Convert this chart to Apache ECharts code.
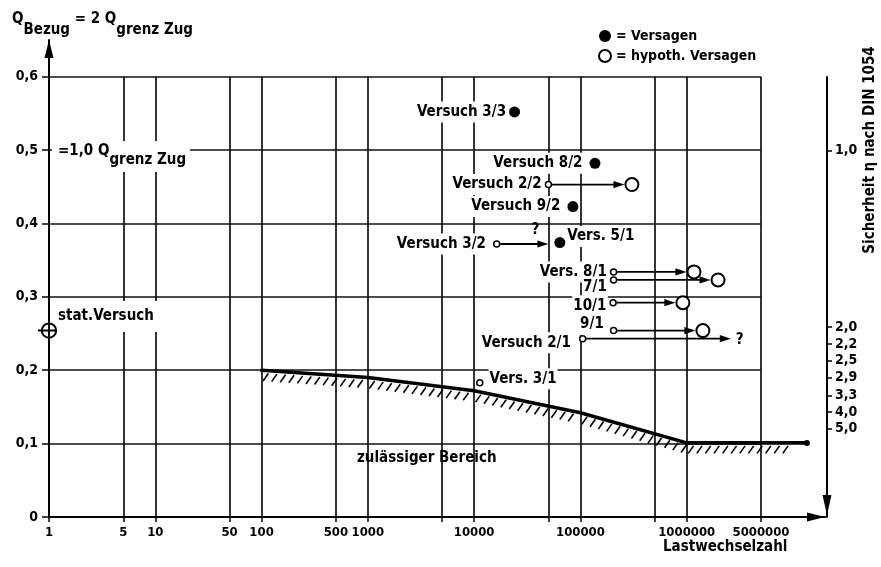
<!DOCTYPE html>
<html><head><meta charset="utf-8">
<script src="https://cdn.jsdelivr.net/npm/echarts@6/dist/echarts.min.js"></script>
<style>html,body{margin:0;padding:0;background:#fff}#c{width:881px;height:567px}</style>
</head><body><div id="c"></div>
<script>
const FONT = "'DejaVu Sans Condensed', 'Liberation Sans Narrow', 'DejaVu Sans', sans-serif";

// ---- axes ----
const xGridValues = [5, 10, 50, 100, 500, 1000, 5000, 10000, 50000, 100000, 500000, 1000000, 5000000];
const xTickValues = [1, 5, 10, 50, 100, 500, 1000, 5000, 10000, 50000, 100000, 500000, 1000000, 5000000];
const xLabelValues = [1, 5, 10, 50, 100, 500, 1000, 10000, 100000, 1000000, 5000000];
const yTickValues = [0, 0.1, 0.2, 0.3, 0.4, 0.5, 0.6];
const yGridValues = [0.1, 0.2, 0.3, 0.4, 0.5, 0.6];
const etaLabels = ['1,0', '2,0', '2,2', '2,5', '2,9', '3,3', '4,0', '5,0'];
const etaTickQ = [0.5, 0.259, 0.236, 0.213, 0.19, 0.166, 0.143, 0.121];

// ---- limit curve (zulässiger Bereich) ----
const limitN = [100, 1000, 10000, 100000, 1000000, 13500000];
const limitQ = [0.2, 0.19, 0.172, 0.142, 0.101, 0.101];

// ---- failures (Versagen) ----
const failNames = ['Versuch 3/3', 'Versuch 8/2', 'Versuch 9/2', 'Vers. 5/1'];
const failN = [24000, 137000, 85000, 64000];
const failQ = [0.552, 0.482, 0.423, 0.374];

// ---- hypothetical failures ----
const hypNames = ['Versuch 2/2', 'Versuch 3/2', 'Vers. 8/1', '7/1', '10/1', '9/1', 'Versuch 2/1', 'Vers. 3/1'];
const hypStartN = [50000, 16300, 205000, 205000, 203000, 205000, 105000, 11300];
const hypEndN = [305000, 50000, 1170000, 1970000, 920000, 1420000, 2600000, null];
const hypQ = [0.453, 0.372, 0.334, 0.323, 0.292, 0.254, 0.243, 0.183];
const hypEndIsFailure = [true, false, true, true, true, true, false, false];
const hypNotes = ['', '?', '', '', '', '', '?', ''];

// ---- static test ----
const staticN = [1];
const staticQ = [0.254];

// ---------- styling ----------
const INK = '#000';
const labelFont = {fontFamily: FONT, fontWeight: 'bold', fontSize: 15, color: '#000'};
const tickFont = {fontFamily: FONT, fontWeight: 'bold', fontSize: 14, color: '#000'};
const labelPlace = {
  'Versuch 3/3': {position: 'left', distance: 2},
  'Versuch 8/2': {position: 'left', distance: 6},
  'Versuch 9/2': {position: 'left', distance: 6},
  'Vers. 5/1': {position: 'right', distance: 1, offset: [0, -6]},
  'Versuch 2/2': {position: 'left', distance: 2},
  'Versuch 3/2': {position: 'left', distance: 6},
  'Vers. 8/1': {position: 'left', distance: 2},
  '7/1': {position: 'left', distance: 2, offset: [0, 7]},
  '10/1': {position: 'left', distance: 2, offset: [0, 3]},
  '9/1': {position: 'left', distance: 5, offset: [0, -6]},
  'Versuch 2/1': {position: 'left', distance: 7, offset: [0, 4]},
  'Vers. 3/1': {position: 'right', distance: 5, offset: [0, -4]}
};
function pointLabel(name) {
  return Object.assign({show: true, formatter: name, backgroundColor: '#fff', padding: [3, 1]}, labelFont, labelPlace[name]);
}
function fmtNum(v) { return String(Math.round(v)); }
function nearestIdx(arr, v) {
  let best = 0;
  arr.forEach((a, i) => { if (Math.abs(a - v) < Math.abs(arr[best] - v)) best = i; });
  return best;
}

const gridLineData = [
  ...xGridValues.map(v => ({coords: [[v, 0], [v, yGridValues[yGridValues.length - 1]]]})),
  ...yGridValues.map(q => ({coords: [[xTickValues[0], q], [xGridValues[xGridValues.length - 1], q]]}))
];

const arrowData = [];
hypEndN.forEach((e, i) => { if (e != null) arrowData.push([hypStartN[i], e, hypQ[i], i]); });

const chart = echarts.init(document.getElementById('c'), null, {renderer: 'canvas'});
const option = {
  animation: false,
  backgroundColor: '#fff',
  textStyle: {fontFamily: FONT},
  grid: [
    {left: 49, right: 56, top: 40, bottom: 50},
    {left: 49, right: 56, top: 77, bottom: 50}
  ],
  legend: {
    data: ['Versagen', 'hypoth. Versagen'],
    orient: 'vertical', left: 593, top: 24,
    itemWidth: 12, itemHeight: 12, itemGap: 6,
    formatter: '= {name}',
    textStyle: tickFont,
    selectedMode: false
  },
  xAxis: [{
    type: 'log', logBase: 10, min: 1, max: 2e7, gridIndex: 0,
    axisLine: {show: true, symbol: ['none', 'triangle'], symbolSize: [9, 18], symbolOffset: [0, -9], lineStyle: {color: INK, width: 2}},
    axisTick: {show: true, customValues: xTickValues, length: 5, lineStyle: {color: INK, width: 1.5}},
    axisLabel: Object.assign({customValues: xLabelValues, margin: 9, formatter: fmtNum}, tickFont, {fontSize: 13}),
    splitLine: {show: false}, minorTick: {show: false}, minorSplitLine: {show: false}
  }, {
    type: 'log', logBase: 10, min: 1, max: 2e7, gridIndex: 1, show: false
  }],
  yAxis: [{
    type: 'value', min: 0, max: 0.65, gridIndex: 0,
    axisLine: {show: true, onZero: false, symbol: ['none', 'triangle'], symbolSize: [9, 18], symbolOffset: [0, -9], lineStyle: {color: INK, width: 2}},
    axisTick: {show: true, customValues: yTickValues, length: 7, lineStyle: {color: INK, width: 1.5}},
    axisLabel: Object.assign({customValues: yTickValues, margin: 11,
      formatter: v => (v === 0 ? '0' : v.toFixed(1).replace('.', ','))}, tickFont),
    splitLine: {show: false}
  }, {
    type: 'value', min: 0, max: 0.6, gridIndex: 1, position: 'right', offset: 2,
    axisLine: {show: true, onZero: false, symbol: ['triangle', 'none'], symbolSize: [9, 20], symbolOffset: [12, 0], lineStyle: {color: INK, width: 2}},
    axisTick: {show: true, customValues: etaTickQ, length: 5, lineStyle: {color: INK, width: 1.5}},
    axisLabel: Object.assign({customValues: etaTickQ, margin: 8,
      formatter: v => etaLabels[nearestIdx(etaTickQ, v)]}, tickFont),
    splitLine: {show: false}
  }],
  series: [
    {
      type: 'lines', name: 'grid', coordinateSystem: 'cartesian2d', xAxisIndex: 0, yAxisIndex: 0,
      silent: true, z: 1, polyline: false,
      lineStyle: {color: '#111', width: 1.7, opacity: 1},
      data: gridLineData
    },
    {
      type: 'line', name: 'Grenze', xAxisIndex: 0, yAxisIndex: 0, z: 3,
      data: limitN.map((n, i) => [n, limitQ[i]]),
      symbol: 'circle',
      symbolSize: (val, p) => (p.dataIndex === limitN.length - 1 ? 6 : 0),
      itemStyle: {color: '#000', opacity: 1},
      lineStyle: {color: '#000', width: 3.6, cap: 'round', join: 'round'}
    },
    {
      type: 'custom', name: 'Schraffur', xAxisIndex: 0, yAxisIndex: 0, z: 3, silent: true,
      data: limitN.map((n, i) => [n, limitQ[i]]),
      renderItem: (params, api) => {
        const i = params.dataIndex;
        if (i >= limitN.length - 1) return null;
        const a = api.coord([limitN[i], limitQ[i]]);
        const b = api.coord([limitN[i + 1], limitQ[i + 1]]);
        const dx = b[0] - a[0], dy = b[1] - a[1];
        const len = Math.hypot(dx, dy);
        const last = i === limitN.length - 2;
        const children = [];
        for (let s = 4; s < len - (last ? 14 : 2); s += 8.6) {
          const t = s / len;
          const x = a[0] + dx * t, y = a[1] + dy * t;
          children.push({type: 'line', shape: {x1: x + 2.8, y1: y + 3, x2: x - 2.5, y2: y + 10.5},
            style: {stroke: '#000', lineWidth: 1.6}});
        }
        return {type: 'group', children};
      }
    },
    {
      type: 'custom', name: 'Pfeile', xAxisIndex: 0, yAxisIndex: 0, z: 4, silent: true,
      data: arrowData,
      encode: {x: [0, 1], y: 2},
      renderItem: (params, api) => {
        const i = api.value(3);
        const p0 = api.coord([api.value(0), api.value(2)]);
        const p1 = api.coord([api.value(1), api.value(2)]);
        const y = p0[1];
        const tip = p1[0] - (hypEndIsFailure[i] ? 7.5 : 0);
        const head = 11, hw = 3.6;
        const children = [
          {type: 'line', shape: {x1: p0[0] + 3.5, y1: y, x2: tip - head + 1, y2: y}, style: {stroke: '#000', lineWidth: 1.8}},
          {type: 'polygon', shape: {points: [[tip, y], [tip - head, y - hw], [tip - head, y + hw]]}, style: {fill: '#000'}}
        ];
        if (hypNotes[i]) {
          const above = i === 1;
          children.push({type: 'text', x: above ? tip - 13 : tip + 5, y: above ? y - 14 : y + 1,
            style: {text: hypNotes[i], fill: '#000', font: 'bold 15px ' + FONT,
              align: above ? 'center' : 'left', verticalAlign: 'middle'}});
        }
        return {type: 'group', children};
      }
    },
    {
      type: 'scatter', name: 'Ausgangspunkt', xAxisIndex: 0, yAxisIndex: 0, z: 5,
      symbol: 'circle', symbolSize: 6,
      itemStyle: {color: '#fff', borderColor: '#000', borderWidth: 1.5, opacity: 1},
      data: hypNames.map((nm, i) => ({value: [hypStartN[i], hypQ[i]], label: pointLabel(nm)}))
    },
    {
      type: 'scatter', name: 'Versagen', xAxisIndex: 0, yAxisIndex: 0, z: 6,
      symbol: 'circle', symbolSize: 11,
      itemStyle: {color: '#000', opacity: 1},
      data: failNames.map((nm, i) => ({value: [failN[i], failQ[i]], label: pointLabel(nm)}))
    },
    {
      type: 'scatter', name: 'hypoth. Versagen', xAxisIndex: 0, yAxisIndex: 0, z: 6,
      symbol: 'circle', symbolSize: 13,
      itemStyle: {color: '#fff', borderColor: '#000', borderWidth: 2, opacity: 1},
      data: hypEndN.map((e, i) => (hypEndIsFailure[i] ? [e, hypQ[i]] : null)).filter(d => d)
    },
    {
      type: 'scatter', name: 'stat. Versuch', xAxisIndex: 0, yAxisIndex: 0, z: 6,
      symbol: 'path://M0,10H20M10,0V20M16.5,10A6.5,6.5,0,1,1,3.5,10A6.5,6.5,0,1,1,16.5,10Z',
      symbolSize: 22,
      itemStyle: {color: 'transparent', borderColor: '#000', borderWidth: 2, opacity: 1},
      label: Object.assign({show: true, formatter: 'stat.Versuch', position: 'right', distance: 0, offset: [-4, -14],
        backgroundColor: '#fff', padding: [8, 4, 8, 1]}, labelFont),
      data: staticN.map((n, i) => [n, staticQ[i]])
    }
  ],
  graphic: [
    {type: 'text', left: 12, top: 12, z: 20,
      style: {text: '{m|Q}{s|Bezug}{m| = 2 Q}{s|grenz Zug}',
        rich: {
          m: {fontFamily: FONT, fontWeight: 'bold', fontSize: 15, lineHeight: 17, verticalAlign: 'top', fill: '#000'},
          s: {fontFamily: FONT, fontWeight: 'bold', fontSize: 15, lineHeight: 26, verticalAlign: 'bottom', fill: '#000'}
        }}},
    {type: 'text', left: 52, top: 141, z: 20,
      style: {text: '{m|=1,0 Q}{s|grenz Zug}', backgroundColor: '#fff', padding: [3, 4, 4, 6],
        rich: {
          m: {fontFamily: FONT, fontWeight: 'bold', fontSize: 15, lineHeight: 17, verticalAlign: 'top', fill: '#000'},
          s: {fontFamily: FONT, fontWeight: 'bold', fontSize: 15, lineHeight: 24, verticalAlign: 'bottom', fill: '#000'}
        }}},
    {type: 'text', left: 357, top: 451, z: 20,
      style: {text: 'zulässiger Bereich', font: 'bold 15px ' + FONT, fill: '#000'}},
    {type: 'text', left: 663, top: 540, z: 20,
      style: {text: 'Lastwechselzahl', font: 'bold 15px ' + FONT, fill: '#000'}},
    {type: 'text', x: 870, y: 150, rotation: Math.PI / 2, z: 20,
      style: {text: 'Sicherheit η nach DIN 1054', font: 'bold 15px ' + FONT, fill: '#000', align: 'center', verticalAlign: 'middle'}}
  ]
};
chart.setOption(option);
</script>
</body></html>
